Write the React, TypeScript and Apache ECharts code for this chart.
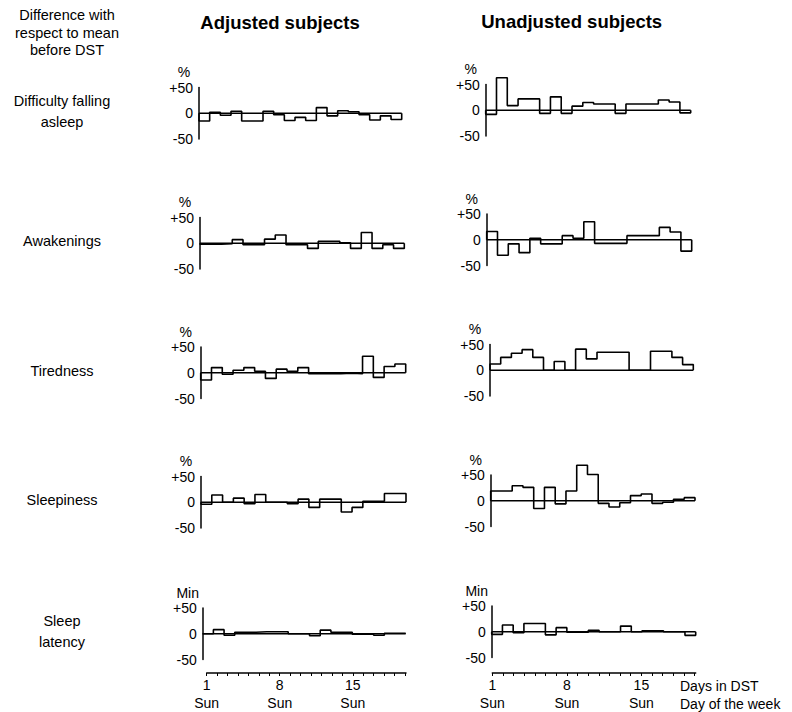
import React, { useEffect, useRef } from "react";
import * as echarts from "echarts";

// ---------- data ----------
const DAY_COUNT = 19;
const COLUMN_TITLES = ["Adjusted subjects", "Unadjusted subjects"];
const HEADER_LINES = ["Difference with", "respect to mean", "before DST"];
const ROW_LABELS = [["Difficulty falling", "asleep"], ["Awakenings"], ["Tiredness"], ["Sleepiness"], ["Sleep", "latency"]];
const ROW_UNITS = ["%", "%", "%", "%", "Min"];
const Y_MIN = -50;
const Y_MAX = 50;
const Y_STEP = 50;

const ADJ_DIFFICULTY = [-15, 2, -4, 4, -15, -15, 4, -3, -14, -8, -14, 11, -5, 5, 3, -3, -13, -5, -12];
const UNADJ_DIFFICULTY = [-8, 63, 9, 22, 22, -6, 26, -6, 8, 15, 12, 12, -6, 12, 12, 12, 20, 16, -5];
const ADJ_AWAKENINGS = [-2, -2, -1, 7, -3, -3, 8, 16, -3, -3, -10, 4, 4, 1, -10, 21, -10, -3, -10];
const UNADJ_AWAKENINGS = [16, -30, -8, -25, 3, -8, -8, 8, 3, 35, -7, -7, -7, 8, 8, 8, 24, 15, -22];
const ADJ_TIREDNESS = [-14, 10, -3, 5, 10, 3, -11, 7, 3, 10, -2, -2, -2, -1, -2, 32, -9, 12, 17];
const UNADJ_TIREDNESS = [12, 25, 33, 40, 25, 0, 17, 0, 41, 22, 35, 35, 35, 0, 0, 37, 37, 25, 11];
const ADJ_SLEEPINESS = [-4, 14, 0, 8, -3, 15, 0, 0, -3, 6, -10, 6, 6, -19, -10, 2, 2, 17, 17];
const UNADJ_SLEEPINESS = [19, 19, 29, 26, -15, 26, -6, 19, 69, 51, -5, -12, -4, 10, 13, -5, -3, 3, 6];
const ADJ_LATENCY = [0, 8, -3, 3, 3, 4, 4, 4, 0, 0, -4, 7, 3, 3, -1, -1, -3, 1, 1];
const UNADJ_LATENCY = [-5, 13, -2, 16, 16, -6, 8, -1, -1, 3, 0, 0, 11, 0, 2, 2, 0, 0, -7];

const X_TICK_DAYS = [1, 8, 15];
const X_TICK_WEEKDAY = "Sun";
const X_AXIS_NAMES = ["Days in DST", "Day of the week"];

const PANEL_VALUES = [
  [ADJ_DIFFICULTY, UNADJ_DIFFICULTY],
  [ADJ_AWAKENINGS, UNADJ_AWAKENINGS],
  [ADJ_TIREDNESS, UNADJ_TIREDNESS],
  [ADJ_SLEEPINESS, UNADJ_SLEEPINESS],
  [ADJ_LATENCY, UNADJ_LATENCY],
];

// ---------- layout ----------
const FONT = '"Liberation Sans", Arial, Helvetica, sans-serif';
const PANEL_H = 51.5;
const PANEL_BOXES = [
  [{ x0: 199, x1: 401.7, top: 87.5 }, { x0: 485.7, x1: 690.7, top: 84.5 }],
  [{ x0: 200, x1: 404.3, top: 217.5 }, { x0: 486.7, x1: 691.7, top: 214 }],
  [{ x0: 200.7, x1: 405.7, top: 347 }, { x0: 490, x1: 693.3, top: 344.5 }],
  [{ x0: 201, x1: 406, top: 476.5 }, { x0: 490.7, x1: 695, top: 475 }],
  [{ x0: 202.7, x1: 405.7, top: 608 }, { x0: 491.7, x1: 695.7, top: 606 }],
];
const BOTTOM_AXES = [
  { x0: 206.7, x1: 406, y: 673.5 },
  { x0: 492.3, x1: 695.7, y: 673 },
];
const TITLE_POS = [{ x: 280, y: 22 }, { x: 571.7, y: 21 }];

function stepData(values: number[]) {
  const pts: number[][] = [[0, 0]];
  values.forEach((v, i) => pts.push([i, v]));
  pts.push([values.length, values[values.length - 1]]);
  pts.push([values.length, 0]);
  return pts;
}

function textEl(text: string, x: number, y: number, size: number, align: string, bold = false) {
  return {
    type: "text",
    x,
    y,
    silent: true,
    style: {
      text,
      font: `${bold ? "bold " : ""}${size}px ${FONT}`,
      fill: "#000",
      align,
      verticalAlign: "middle",
      textAlign: align,
      textVerticalAlign: "middle",
    },
  };
}

function buildOption() {
  const grid: any[] = [];
  const xAxis: any[] = [];
  const yAxis: any[] = [];
  const series: any[] = [];
  const graphic: any[] = [];

  PANEL_VALUES.forEach((row, r) => {
    row.forEach((values, c) => {
      const box = PANEL_BOXES[r][c];
      const idx = grid.length;
      grid.push({ left: box.x0, top: box.top, width: box.x1 - box.x0, height: PANEL_H });
      xAxis.push({ gridIndex: idx, type: "value", min: 0, max: DAY_COUNT, show: false });
      yAxis.push({
        gridIndex: idx,
        type: "value",
        min: Y_MIN,
        max: Y_MAX,
        interval: Y_STEP,
        axisLine: { show: true, lineStyle: { color: "#000", width: 1.5 } },
        axisTick: { show: false },
        splitLine: { show: false },
        axisLabel: {
          color: "#000",
          fontSize: 14,
          fontFamily: FONT,
          margin: 6,
          formatter: (v: number) => (v > 0 ? "+" + v : String(v)),
        },
      });
      series.push({
        type: "line",
        xAxisIndex: idx,
        yAxisIndex: idx,
        data: [[0, 0], [DAY_COUNT, 0]],
        symbol: "none",
        silent: true,
        lineStyle: { color: "#000", width: 1.3 },
      });
      series.push({
        type: "line",
        xAxisIndex: idx,
        yAxisIndex: idx,
        step: "end",
        data: stepData(values),
        symbol: "none",
        clip: false,
        silent: true,
        lineStyle: { color: "#000", width: 1.6 },
      });
      graphic.push(textEl(ROW_UNITS[r], box.x0 - 15, box.top - 15.5, 14, "center"));
    });
  });

  BOTTOM_AXES.forEach((ax) => {
    const idx = grid.length;
    grid.push({ left: ax.x0, top: ax.y - 1, width: ax.x1 - ax.x0, height: 1 });
    xAxis.push({
      gridIndex: idx,
      type: "value",
      min: 1,
      max: 20.1,
      interval: 1,
      position: "bottom",
      axisLine: { show: true, onZero: false, lineStyle: { color: "#000", width: 1.5 } },
      axisTick: { show: true, length: 3, lineStyle: { color: "#000", width: 1 } },
      splitLine: { show: false },
      axisLabel: {
        color: "#000",
        fontSize: 14,
        fontFamily: FONT,
        lineHeight: 18,
        margin: 3,
        showMaxLabel: false,
        formatter: (v: number) => (X_TICK_DAYS.includes(v) ? `${v}\n${X_TICK_WEEKDAY}` : ""),
      },
    });
    yAxis.push({ gridIndex: idx, type: "value", min: 0, max: 1, show: false });
  });

  COLUMN_TITLES.forEach((t, c) => graphic.push(textEl(t, TITLE_POS[c].x, TITLE_POS[c].y, 18.5, "center", true)));
  HEADER_LINES.forEach((t, i) => graphic.push(textEl(t, 67, 15 + i * 17.5, 14.5, "center")));
  ROW_LABELS.forEach((lines, r) => {
    const zeroY = PANEL_BOXES[r][0].top + PANEL_H / 2;
    if (lines.length === 1) {
      graphic.push(textEl(lines[0], 62, zeroY - 2, 14.5, "center"));
    } else {
      graphic.push(textEl(lines[0], 62, zeroY - 12.5, 14.5, "center"));
      graphic.push(textEl(lines[1], 62, zeroY + 8.5, 14.5, "center"));
    }
  });
  X_AXIS_NAMES.forEach((t, i) => graphic.push(textEl(t, 680, 686 + i * 17.5, 14, "left")));

  return {
    animation: false,
    backgroundColor: "#fff",
    grid,
    xAxis,
    yAxis,
    series,
    graphic,
  };
}

export default function App() {
  const ref = useRef<HTMLDivElement>(null);
  useEffect(() => {
    if (!ref.current) return;
    const chart = echarts.init(ref.current, undefined, { renderer: "svg" });
    chart.setOption(buildOption() as any);
    return () => chart.dispose();
  }, []);
  return (
    <div
      ref={ref}
      style={{ position: "fixed", left: 0, top: 0, width: 792, height: 712, background: "#fff" }}
    />
  );
}
